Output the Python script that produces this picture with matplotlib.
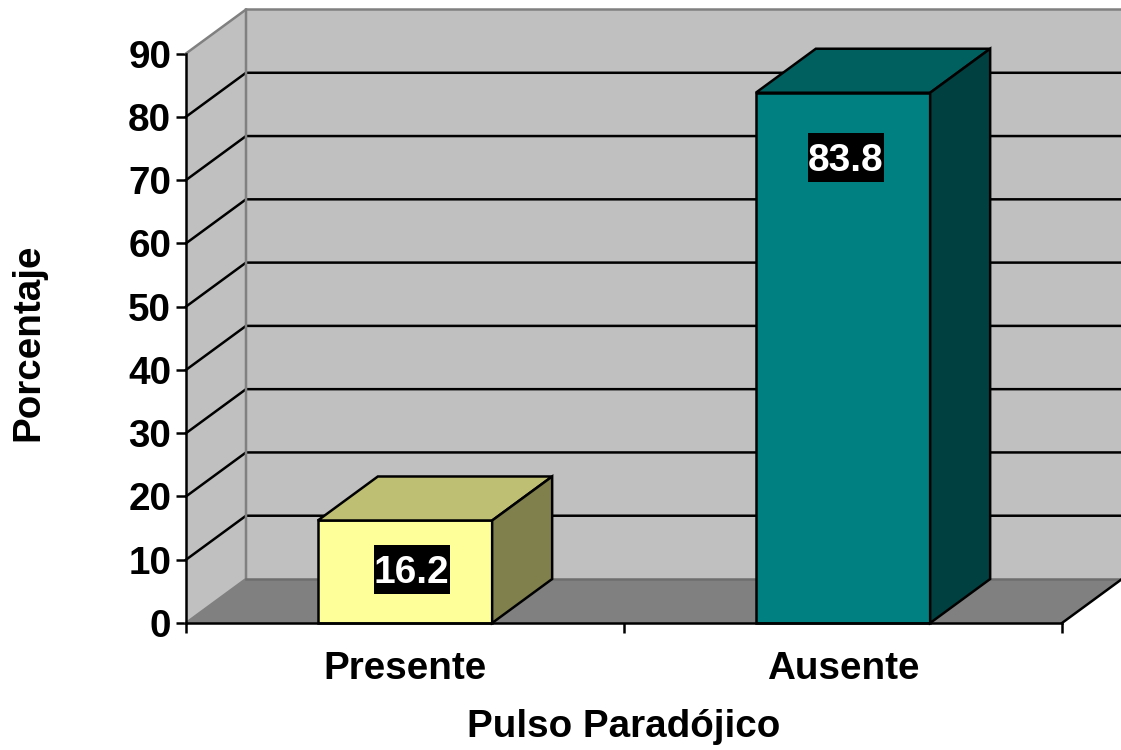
#!/usr/bin/env python3
import matplotlib
matplotlib.use("Agg")
import matplotlib.pyplot as plt
from matplotlib.patches import Polygon, Rectangle

categories = ["Presente", "Ausente"]
values = [16.2, 83.8]
value_labels = ["16.2", "83.8"]
y_ticks = [0, 10, 20, 30, 40, 50, 60, 70, 80, 90]

front_colors = ["#FFFF99", "#008080"]
top_colors = ["#BFBF73", "#006060"]
side_colors = ["#80804D", "#004040"]
label_drops = [7.7, 10.2]
label_shifts = [6.5, 2.5]

W, H = 1121, 750
LEFT, RIGHT, BOTTOM, TOP = 186, 1062, 623, 53.5
BAR_W = 0.398

plt.rcParams["font.family"] = ["Liberation Sans", "DejaVu Sans"]
plt.rcParams["font.weight"] = "bold"

fig = plt.figure(figsize=(W / 100, H / 100), dpi=100)
ax = fig.add_axes([LEFT / W, 1 - BOTTOM / H, (RIGHT - LEFT) / W, (BOTTOM - TOP) / H])
ax.set_xlim(-0.5, 1.5)
ax.set_ylim(0, 90)
ax.patch.set_visible(False)

# depth of the box, in data units of each axis
dx = 60 / (RIGHT - LEFT) * 2
dy = 44 / (BOTTOM - TOP) * 90
x0, x1 = ax.get_xlim()
y0, y1 = ax.get_ylim()

LINE = 1.8
FONT = 27.8


def poly(pts, color, edge="none", z=1, lw=LINE):
    ax.add_patch(Polygon(pts, closed=True, facecolor=color, edgecolor=edge,
                         linewidth=lw, joinstyle="miter", clip_on=False, zorder=z))


# walls and floor
poly([(x0 + dx, y0 + dy), (x1 + dx, y0 + dy), (x1 + dx, y1 + dy), (x0 + dx, y1 + dy)], "#C0C0C0")
poly([(x0, y0), (x0 + dx, y0 + dy), (x0 + dx, y1 + dy), (x0, y1)], "#C0C0C0")
poly([(x0, y0), (x1, y0), (x1 + dx, y0 + dy), (x0 + dx, y0 + dy)], "#808080")

# gridlines wrap from the side wall onto the back wall
for t in y_ticks[1:-1]:
    ax.plot([x0, x0 + dx, x1 + dx], [t, t + dy, t + dy], color="black", lw=LINE,
            clip_on=False, zorder=2, solid_joinstyle="miter")

# grey wall outline
ax.plot([x0, x0 + dx, x0 + dx], [y0, y0 + dy, y1 + dy], color="#808080", lw=LINE,
        clip_on=False, zorder=2)
ax.plot([x0, x0 + dx, x1 + dx], [y1, y1 + dy, y1 + dy], color="#808080", lw=LINE,
        clip_on=False, zorder=2)
ax.plot([x0 + dx, x1 + dx], [y0 + dy, y0 + dy], color="#6E6E6E", lw=LINE,
        clip_on=False, zorder=2)
ax.plot([x1, x1 + dx], [y0, y0 + dy], color="black", lw=LINE, clip_on=False, zorder=2)

# bars
for i, v in enumerate(values):
    l, r = i - BAR_W / 2, i + BAR_W / 2
    poly([(l, 0), (r, 0), (r, v), (l, v)], front_colors[i], "black", z=3)
    poly([(l, v), (r, v), (r + dx, v + dy), (l + dx, v + dy)], top_colors[i], "black", z=3)
    poly([(r, 0), (r + dx, dy), (r + dx, v + dy), (r, v)], side_colors[i], "black", z=3)

    # value label on a black box
    px, py = 2 / (RIGHT - LEFT), 90 / (BOTTOM - TOP)
    cx, cy = i + label_shifts[i] * px, v - label_drops[i]
    ax.add_patch(Rectangle((cx - 38 * px, cy - 24.5 * py), 76 * px, 49 * py,
                           facecolor="black", edgecolor="none", zorder=4))
    ax.text(cx, cy, value_labels[i], color="white", fontsize=28, fontweight="bold",
            ha="center", va="center_baseline", zorder=5)

for side in ("top", "right"):
    ax.spines[side].set_visible(False)
for side in ("left", "bottom"):
    ax.spines[side].set_linewidth(LINE)
    ax.spines[side].set_zorder(6)

ax.set_yticks(y_ticks)
ax.tick_params(axis="y", length=7.2, width=LINE, labelsize=FONT, pad=3.5, zorder=6)
ax.set_xticks([-0.5, 0.5, 1.5])
ax.set_xticklabels([])
ax.tick_params(axis="x", which="major", length=7.2, width=LINE)
ax.set_xticks([0, 1], minor=True)
ax.set_xticklabels(categories, minor=True)
ax.tick_params(axis="x", which="minor", length=0, labelsize=FONT, pad=20)

fig.text(624 / W, 1 - 727 / H, "Pulso Paradójico", fontsize=FONT, fontweight="bold",
         ha="center", va="center")
fig.text(28 / W, 1 - 342 / H, "Porcentaje", fontsize=FONT, fontweight="bold",
         rotation=90, ha="center", va="center")

fig.savefig("out.png", dpi=100)
